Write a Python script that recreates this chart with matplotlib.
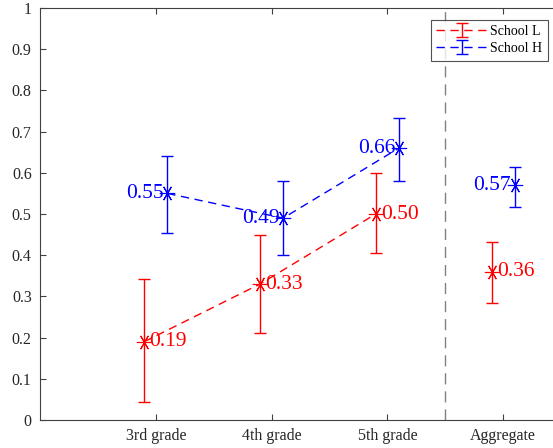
import numpy as np
import matplotlib.pyplot as plt
import matplotlib as mpl

mpl.rcParams['font.family'] = 'serif'
mpl.rcParams['font.serif'] = ['Liberation Serif', 'DejaVu Serif']

groups = ['3rd grade', '4th grade', '5th grade', 'Aggregate']
pos = np.array([1, 2, 3, 4])

# School L
low_mean = [0.19, 0.33, 0.50, 0.36]
low_lo = [0.044, 0.21, 0.405, 0.284]
low_hi = [0.342, 0.45, 0.60, 0.432]
# School H
high_mean = [0.55, 0.49, 0.66, 0.57]
high_lo = [0.453, 0.40, 0.58, 0.516]
high_hi = [0.641, 0.58, 0.732, 0.614]

low_lbl = ['0.19', '0.33', '0.50', '0.36']
high_lbl = ['0.55', '0.49', '0.66', '0.57']

fig = plt.figure(figsize=(5.53, 4.48), dpi=100)
ax = fig.add_axes([40/553, 28/448, 521/553, 412/448])

star = (6, 2, 90)
shift = 0.1

def draw(x, m, lo, hi, col, name):
    m = np.array(m); lo = np.array(lo); hi = np.array(hi)
    err = [m - lo, hi - m]
    # grades joined by dashed line, aggregate alone
    ax.errorbar(x[:3], m[:3], yerr=[e[:3] for e in err], color=col, lw=1,
                ls='--', dashes=(6, 4), capsize=4, capthick=1,
                elinewidth=1, label=name)
    ax.errorbar(x[3:], m[3:], yerr=[e[3:] for e in err], color=col, lw=1,
                ls='none', capsize=4, capthick=1, elinewidth=1)
    ax.plot(x, m, ls='none', marker=star, ms=11, mew=0.8, color=col)

draw(pos - shift, low_mean, low_lo, low_hi, 'red', 'School L')
draw(pos + shift, high_mean, high_lo, high_hi, 'blue', 'School H')

for xi, v, t in zip(pos - shift, low_mean, low_lbl):
    ax.text(xi + 0.045, v, t, color='red', fontsize=15.5, ha='left', va='center')
for xi, v, t in zip(pos + shift, high_mean, high_lbl):
    ax.text(xi - 0.03, v, t, color='blue', fontsize=15.5, ha='right', va='center')

ax.axvline(3.5, color='0.5', lw=1, ls='--', dashes=(8, 5))

ax.set_xlim(0, 4.5)
ax.set_ylim(0, 1)
ax.set_xticks(pos)
ax.set_xticklabels(groups)
ax.set_yticks(np.arange(0, 1.01, 0.1))
ax.set_yticklabels(['0', '0.1', '0.2', '0.3', '0.4', '0.5', '0.6', '0.7', '0.8', '0.9', '1'])
ax.tick_params(direction='in', top=True, right=True, length=4, width=0.8,
               colors='0.25', labelsize=11.5, labelcolor='0.15', pad=6)
for s in ax.spines.values():
    s.set_color('0.25')
    s.set_linewidth(0.8)

leg = ax.legend(loc='upper right', bbox_to_anchor=(0.975, 0.972), fontsize=10,
                frameon=True, fancybox=False, edgecolor='0.15', handlelength=3.7,
                borderpad=0.4, labelspacing=0.28, handletextpad=0.2, borderaxespad=0)
leg.get_frame().set_linewidth(0.8)

fig.savefig('out.png', dpi=100)
